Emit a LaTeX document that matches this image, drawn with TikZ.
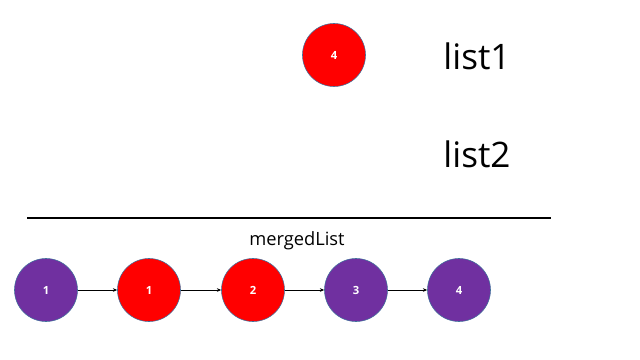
\documentclass[tikz,border=0pt]{standalone}
\usepackage{fontspec}
\setmainfont{Open Sans}
\usepackage{tikz}
\usetikzlibrary{arrows.meta, positioning}
\definecolor{lila}{HTML}{7030A0}
\definecolor{rand}{HTML}{41719C}

\begin{document}
\begin{tikzpicture}[x=0.025cm, y=-0.025cm,
		knoten/.style={circle, draw=rand, line width=0.4pt, minimum size=1.575cm, inner sep=0pt, text=white, font=\bfseries\fontsize{8}{8}\selectfont},
		listname/.style={font=\fontsize{25}{25}\selectfont},
		pfeil/.style={-{Stealth[length=1.1mm, width=0.9mm]}, thin}]
			\useasboundingbox (0,0) rectangle (640,360);
			
			% Liste 1
			\node[knoten, fill=red] (l1) at (334,55) {4};
			\node[listname] (name1) at (477,56) {list1};
			
			% Liste 2
			\node[listname] (name2) at (477,154) {list2};
			
			% Trennlinie
			\coordinate (links) at (27,218);
			\coordinate (rechts) at (551,218);
			\draw[line width=1.5pt] (links) -- (rechts);
			
			% Zusammengefuehrte Liste
			\node[font=\fontsize{13}{13}\selectfont] (titel) at (297,241) {mergedList};
			\foreach \i/\x/\w/\f in {1/46/1/lila, 2/149/1/red, 3/253/2/red, 4/356/3/lila, 5/459/4/lila} {
				\node[knoten, fill=\f] (m\i) at (\x,290) {\w};
			}
			
			% Verbindungen
			\foreach \i [evaluate=\i as \j using int(\i+1)] in {1,...,4} {
				\draw[pfeil] (m\i) -- (m\j);
			}
		\end{tikzpicture}
\end{document}
